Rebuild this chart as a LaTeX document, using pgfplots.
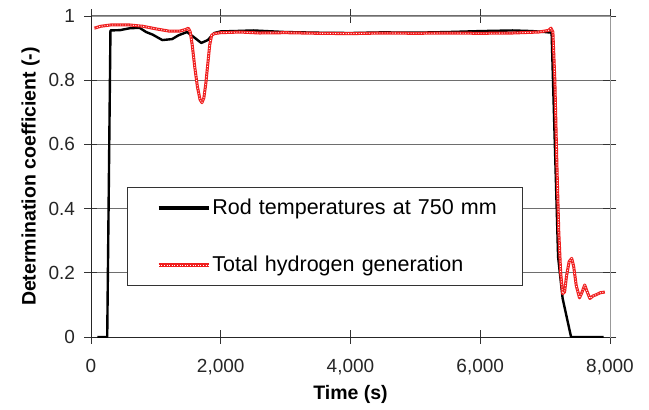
\documentclass[border=0pt]{standalone}
\usepackage{pgfplots}
\pgfplotsset{compat=1.18}
\usepackage{fontspec}
\setmainfont{Liberation Sans}
\definecolor{gridgray}{RGB}{110,110,110}
\definecolor{hred}{RGB}{240,30,30}
\begin{document}
\begin{tikzpicture}
\path[use as bounding box] (-91pt,-73pt) rectangle (558pt,337pt);
\begin{axis}[
  scale only axis,
  width=519pt, height=321pt,
  xmin=0, xmax=8000, ymin=0, ymax=1,
  xtick={0,2000,4000,6000,8000},
  ytick={0,0.2,0.4,0.6,0.8,1},
  yticklabels={0,0.2,0.4,0.6,0.8,1},
  /pgf/number format/assume math mode=true,
  /pgf/number format/1000 sep={,},
  scaled x ticks=false,
  tick label style={font=\fontsize{19}{21}\selectfont, text=black!85},
  xticklabel style={yshift=-12pt},
  yticklabel style={xshift=-6pt},
  tick align=center,
  major tick length=13pt,
  tick style={black!80, line width=0.8pt},
  axis line style={draw=gray!80, line width=0.8pt},
  ymajorgrids,
  grid style={gridgray, line width=1pt},
  xlabel={\bfseries Time (s)},
  ylabel={\bfseries Determination coefficient (-)},
  label style={font=\fontsize{19.5}{21}\selectfont\bfseries},
  xlabel style={yshift=-4pt},
  ylabel style={yshift=2pt},
  legend style={
    at={(0.069,0.467)}, anchor=north west,
    draw=black!80, fill=white,
    font=\fontsize{21.5}{23}\selectfont,
    inner xsep=30pt, inner ysep=10pt,
    row sep=36pt,
    nodes={text width=278pt, inner sep=2pt},
  },
  legend cell align=left,
]
\draw[black!85, line width=0.9pt] (rel axis cs:0,0) -- (rel axis cs:1,0);
\draw[black!85, line width=0.9pt] (rel axis cs:0,0) -- (rel axis cs:0,1);
\addplot[black, line width=2.4pt, line join=round,
  legend image code/.code={\draw[black, line width=3.4pt] (0pt,0pt) -- (50pt,0pt);}] coordinates {
(100,0)(250,0)(300,0.955)(450,0.956)(600,0.962)(750,0.963)(850,0.95)(950,0.942)
(1100,0.925)(1250,0.928)(1350,0.94)(1480,0.95)(1580,0.935)(1700,0.916)(1800,0.925)
(1900,0.947)(2000,0.952)(2200,0.953)(2500,0.955)(2800,0.952)(3000,0.95)(3500,0.948)
(4000,0.947)(4500,0.949)(5000,0.948)(5500,0.95)(6000,0.953)(6500,0.955)(6800,0.953)
(7000,0.95)(7100,0.948)(7150,0.6)(7200,0.25)(7270,0.12)(7400,0)(7900,0)
};
\addlegendentry{\mbox{Rod temperatures at 750 mm}}
\addplot[hred, line width=3pt, line join=round,
  postaction={draw=white, line width=0.8pt, dash pattern=on 1pt off 1.6pt},
  legend image code/.code={\draw[hred, line width=3.4pt,
    postaction={draw=white, line width=0.8pt, dash pattern=on 1pt off 1.6pt}] (0pt,0pt) -- (50pt,0pt);}] coordinates {
(50,0.962)(150,0.968)(300,0.972)(600,0.972)(800,0.968)(1000,0.96)(1200,0.953)
(1370,0.953)(1460,0.958)(1500,0.962)(1530,0.95)(1560,0.91)(1600,0.84)(1640,0.78)
(1680,0.74)(1710,0.73)(1740,0.745)(1770,0.79)(1800,0.85)(1830,0.91)(1860,0.94)
(1900,0.945)(2000,0.948)(2300,0.95)(2600,0.947)(3000,0.948)(3500,0.946)
(4000,0.945)(4500,0.947)(5000,0.946)(5500,0.947)(6000,0.946)(6500,0.947)(6900,0.95)
(7050,0.955)(7090,0.962)(7120,0.95)(7150,0.8)(7180,0.55)(7210,0.33)(7240,0.2)
(7270,0.135)(7300,0.14)(7330,0.19)(7370,0.235)(7410,0.245)(7440,0.22)(7480,0.16)
(7530,0.122)(7570,0.14)(7610,0.162)(7650,0.14)(7690,0.12)(7740,0.128)(7790,0.132)
(7850,0.138)(7920,0.14)
};
\addlegendentry{\mbox{Total hydrogen generation}}
\end{axis}
\end{tikzpicture}
\end{document}
